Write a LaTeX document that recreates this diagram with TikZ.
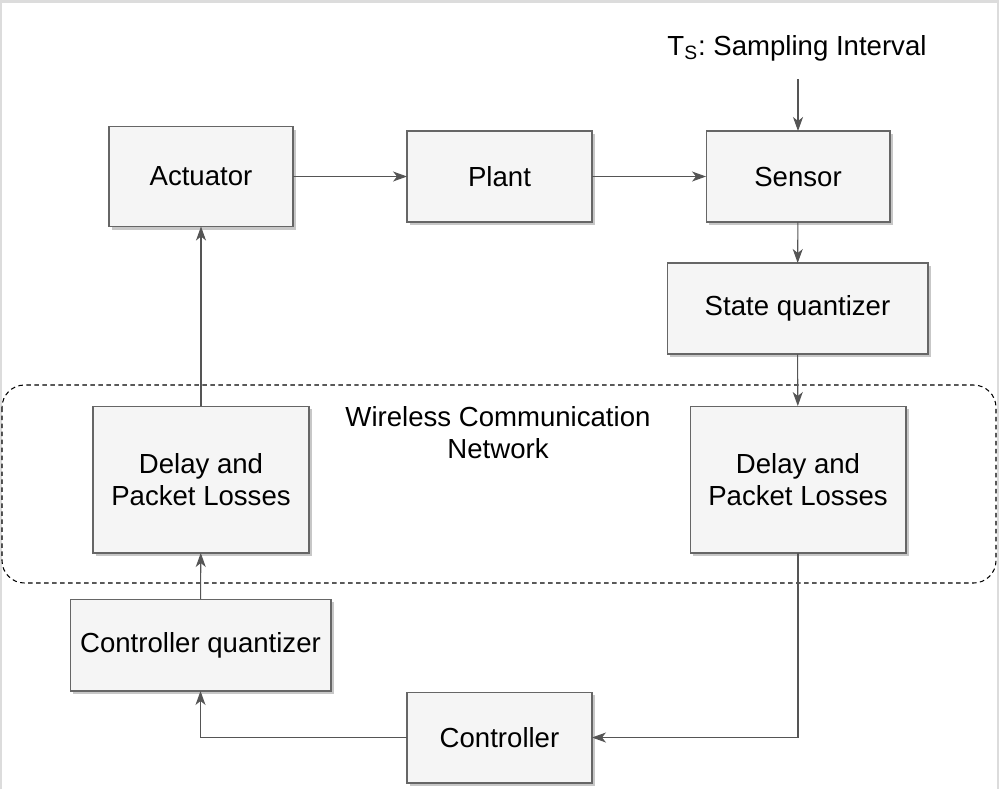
\documentclass[tikz,border=0pt]{standalone}
\usepackage{fontspec}
\setmainfont{Liberation Sans}
\usepackage{tikz}
\usetikzlibrary{arrows.meta,shadows}
\definecolor{boxfill}{HTML}{F5F5F5}
\definecolor{boxline}{HTML}{666666}
\definecolor{wire}{HTML}{555555}
\definecolor{framegray}{HTML}{DCDCDC}

\begin{document}
\begin{tikzpicture}[x=0.02cm,y=-0.02cm,
    block/.style={fill=boxfill, draw=boxline, line width=0.6pt, rectangle, outer sep=0pt,
        align=center, font=\fontsize{15.7pt}{18.2pt}\selectfont,
        drop shadow={shadow xshift=0.06cm, shadow yshift=-0.06cm, fill=black!22, opacity=1}},
    link/.style={draw=wire, line width=0.6pt, -{Stealth[length=0.28cm,width=0.2cm,inset=0.08cm]}}]
\useasboundingbox (0,0) rectangle (999,789);
\draw[framegray, line width=1.2pt] (1,789) -- (1,1.5) -- (998,1.5) -- (998,789);

\draw[dashed, dash pattern=on 0.09cm off 0.07cm, line width=0.6pt, rounded corners=0.45cm]
    (2,385) rectangle (996,583);

\node[block, minimum width = 3.68cm, minimum height = 2.0cm] (act) at (201,176.5) {\raisebox{-2pt}{Actuator}};
\node[block, minimum width = 3.7cm, minimum height = 1.82cm] (plant) at (499.5,176.5) {\raisebox{-2pt}{Plant}};
\node[block, minimum width = 3.68cm, minimum height = 1.82cm] (sensor) at (798,176.5) {\raisebox{-2pt}{Sensor}};
\node[block, minimum width = 5.22cm, minimum height = 1.82cm] (squant) at (797.5,308.5) {\raisebox{-2pt}{State quantizer}};
\node[block, minimum width = 4.32cm, minimum height = 2.94cm] (dright) at (798,479.5) {Delay and\\Packet Losses};
\node[block, minimum width = 4.32cm, minimum height = 2.94cm] (dleft) at (201,479.5) {Delay and\\Packet Losses};
\node[block, minimum width = 5.22cm, minimum height = 1.84cm] (cquant) at (200.5,645) {\raisebox{-2pt}{Controller quantizer}};
\node[block, minimum width = 3.7cm, minimum height = 1.82cm] (ctrl) at (499.5,737.5) {\raisebox{-2pt}{Controller}};

\node[align=center, font=\fontsize{15.7pt}{18.2pt}\selectfont] (net) at (498,433) {Wireless Communication\\Network};
\node[font=\fontsize{15.7pt}{18.2pt}\selectfont] (ts) at (797,48) {T\textsubscript{S}:~Sampling Interval};
\coordinate (tsin) at (798,79);

\draw[link] (act) -- (plant);
\draw[link] (plant) -- (sensor);
\draw[link] (tsin) -- (sensor);
\draw[link] (sensor) -- (squant);
\draw[link] (squant) -- (dright);
\draw[link] (dright.south) |- (ctrl.east);
\draw[link] (ctrl.west) -| (cquant.south);
\draw[link] (cquant) -- (dleft);
\draw[link] (dleft) -- (act);

\end{tikzpicture}
\end{document}
